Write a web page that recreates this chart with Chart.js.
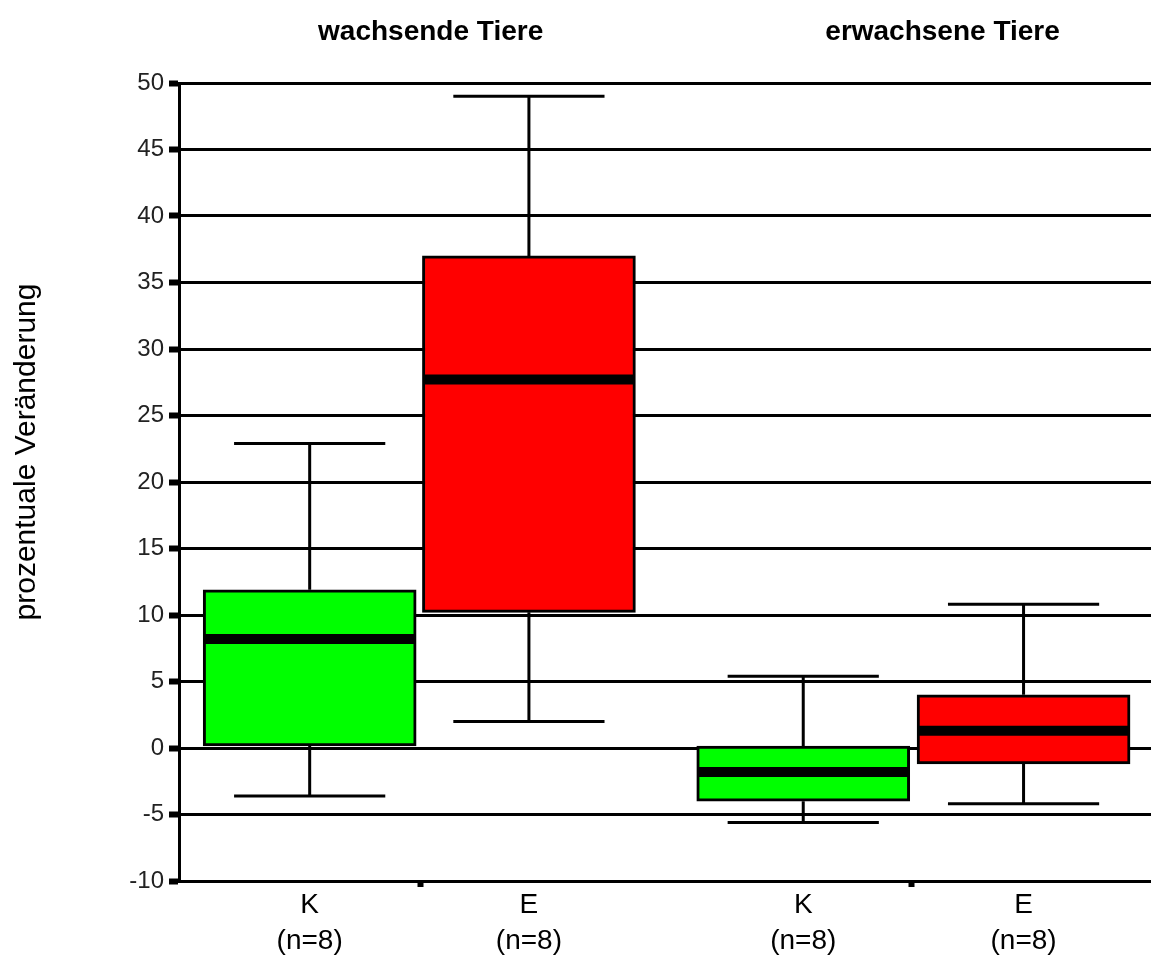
<!DOCTYPE html>
<html>
<head>
<meta charset="utf-8">
<script src="https://cdn.jsdelivr.net/npm/chart.js@4"></script>
<style>
  html, body { margin: 0; padding: 0; background: #fff; }
  #wrap { width: 1151px; height: 955px; }
</style>
</head>
<body>
<div id="wrap"><canvas id="chart" width="1151" height="955"></canvas></div>
<script>
// Daten
const categories = ["K", "E", "K", "E"];
const groupTitles = ["wachsende Tiere", "erwachsene Tiere"];
const sampleSizes = [8, 8, 8, 8];
const whiskerMin = [-3.6, 2.0, -5.6, -4.2];
const q1 = [0.15, 10.2, -4.0, -1.2];
const median = [8.2, 27.7, -1.8, 1.3];
const q3 = [11.9, 37.0, 0.15, 4.0];
const whiskerMax = [22.9, 49.0, 5.4, 10.8];
const yTicks = [-10, -5, 0, 5, 10, 15, 20, 25, 30, 35, 40, 45, 50];
const yTitle = "prozentuale Veränderung";

// Layout (Positionen auf der x-Achse)
const xPos = [1.21, 3.24, 5.78, 7.82];
const dividers = [2.24, 6.78];
const groupPos = [2.33, 7.07];
const boxHalf = 0.98;
const capHalf = 0.70;
const boxColors = ["#00ff00", "#ff0000", "#00ff00", "#ff0000"];
const FONT = 'Arial, "Liberation Sans", sans-serif';

const datasets = [];

// Boxen als schwebende Balken
datasets.push({
    type: "bar",
    data: categories.map((c, i) => ({ x: xPos[i], y: [q1[i], q3[i]] })),
    backgroundColor: boxColors,
    borderColor: "#000",
    borderWidth: 3,
    borderSkipped: false,
    barThickness: 213,
    order: 2
});

// Whisker, Kappen und Median
categories.forEach((c, i) => {
    const gap = { x: xPos[i], y: null };
    datasets.push({
        type: "line",
        data: [
            { x: xPos[i] - capHalf, y: whiskerMax[i] }, { x: xPos[i] + capHalf, y: whiskerMax[i] }, gap,
            { x: xPos[i], y: whiskerMax[i] }, { x: xPos[i], y: q3[i] }, gap,
            { x: xPos[i], y: q1[i] }, { x: xPos[i], y: whiskerMin[i] }, gap,
            { x: xPos[i] - capHalf, y: whiskerMin[i] }, { x: xPos[i] + capHalf, y: whiskerMin[i] }
        ],
        borderColor: "#000",
        borderWidth: 3,
        pointRadius: 0,
        spanGaps: false,
        tension: 0,
        order: 3
    });
    datasets.push({
        type: "line",
        data: [{ x: xPos[i] - boxHalf, y: median[i] }, { x: xPos[i] + boxHalf, y: median[i] }],
        borderColor: "#000",
        borderWidth: 10,
        borderCapStyle: "butt",
        pointRadius: 0,
        order: 1
    });
});

// y-Achsentitel etwas oberhalb der Mitte, wie im Original
const yTitlePlugin = {
    id: "yTitle",
    afterDraw(chart) {
        const ctx = chart.ctx;
        ctx.save();
        ctx.translate(27, 452);
        ctx.rotate(-Math.PI / 2);
        ctx.font = "30px " + FONT;
        ctx.fillStyle = "#000";
        ctx.textAlign = "center";
        ctx.textBaseline = "middle";
        ctx.fillText(yTitle, 0, 0);
        ctx.restore();
    }
};

new Chart(document.getElementById("chart"), {
    type: "bar",
    data: { datasets },
    plugins: [yTitlePlugin],
    options: {
        responsive: false,
        animation: false,
        layout: { padding: 0 },
        plugins: { legend: { display: false }, tooltip: { enabled: false } },
        scales: {
            x: {
                type: "linear",
                position: "bottom",
                min: 0,
                max: 9,
                offset: false,
                afterBuildTicks: axis => {
                    axis.ticks = xPos.concat(dividers).map(v => ({ value: v }));
                },
                afterFit: axis => { axis.height = 74; },
                ticks: {
                    autoSkip: false,
                    maxRotation: 0,
                    padding: 0,
                    color: "#000",
                    font: { family: FONT, size: 28, lineHeight: 1.29 },
                    callback: v => {
                        const i = xPos.indexOf(v);
                        return i >= 0 ? [categories[i], "(n=" + sampleSizes[i] + ")"] : "";
                    }
                },
                grid: {
                    offset: false,
                    drawOnChartArea: false,
                    tickLength: 6,
                    tickWidth: 6,
                    tickColor: ctx => (ctx.tick && dividers.includes(ctx.tick.value)) ? "#000" : "rgba(0,0,0,0)"
                },
                border: { color: "#000", width: 3 }
            },
            x2: {
                type: "linear",
                position: "top",
                min: 0,
                max: 9,
                offset: false,
                afterBuildTicks: axis => {
                    axis.ticks = groupPos.map(v => ({ value: v }));
                },
                afterFit: axis => { axis.height = 83; },
                ticks: {
                    autoSkip: false,
                    maxRotation: 0,
                    padding: 26,
                    color: "#000",
                    font: { family: FONT, size: 28, weight: "bold" },
                    callback: v => groupTitles[groupPos.indexOf(v)]
                },
                grid: { display: false, offset: false },
                border: { display: false }
            },
            y: {
                min: -10,
                max: 50,
                afterBuildTicks: axis => {
                    axis.ticks = yTicks.map(v => ({ value: v }));
                },
                afterFit: axis => { axis.width = 179; },
                ticks: {
                    padding: 5,
                    color: "#222",
                    font: { family: FONT, size: 24 }
                },
                grid: {
                    color: "#000",
                    lineWidth: 3,
                    tickLength: 10,
                    tickWidth: 6,
                    tickColor: "#000"
                },
                border: { color: "#000", width: 3 }
            }
        }
    }
});
</script>
</body>
</html>
